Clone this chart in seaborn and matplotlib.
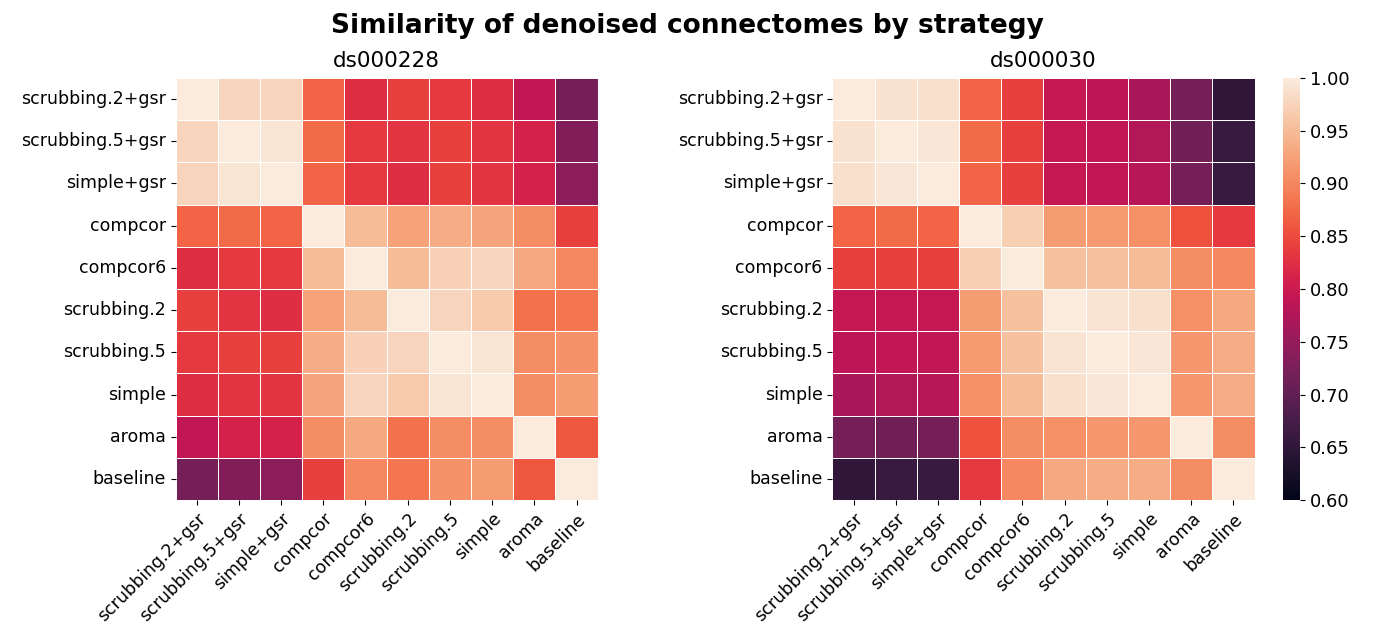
import numpy as np
import pandas as pd
import seaborn as sns
import matplotlib.pyplot as plt

# strategies in plotting order
strategies = ['scrubbing.2+gsr', 'scrubbing.5+gsr', 'simple+gsr', 'compcor',
              'compcor6', 'scrubbing.2', 'scrubbing.5', 'simple', 'aroma',
              'baseline']

# similarity matrices (rows follow strategies)
ds000228 = [
    [1.000, 0.978, 0.975, 0.870, 0.825, 0.840, 0.835, 0.825, 0.790, 0.720],
    [0.978, 1.000, 0.993, 0.875, 0.835, 0.830, 0.840, 0.830, 0.810, 0.730],
    [0.975, 0.993, 1.000, 0.870, 0.835, 0.825, 0.840, 0.830, 0.810, 0.740],
    [0.870, 0.875, 0.870, 1.000, 0.950, 0.925, 0.935, 0.928, 0.905, 0.840],
    [0.825, 0.835, 0.835, 0.950, 1.000, 0.950, 0.972, 0.975, 0.930, 0.900],
    [0.840, 0.830, 0.825, 0.925, 0.950, 1.000, 0.975, 0.965, 0.880, 0.885],
    [0.835, 0.840, 0.840, 0.935, 0.972, 0.975, 1.000, 0.993, 0.905, 0.910],
    [0.825, 0.830, 0.830, 0.928, 0.975, 0.965, 0.993, 1.000, 0.905, 0.920],
    [0.790, 0.810, 0.810, 0.905, 0.930, 0.880, 0.905, 0.905, 1.000, 0.860],
    [0.720, 0.730, 0.740, 0.840, 0.900, 0.885, 0.910, 0.920, 0.860, 1.000],
]

ds000030 = [
    [1.000, 0.990, 0.988, 0.870, 0.840, 0.795, 0.785, 0.770, 0.720, 0.650],
    [0.990, 1.000, 0.995, 0.875, 0.840, 0.795, 0.790, 0.775, 0.715, 0.660],
    [0.988, 0.995, 1.000, 0.870, 0.840, 0.795, 0.790, 0.780, 0.720, 0.660],
    [0.870, 0.875, 0.870, 1.000, 0.970, 0.920, 0.918, 0.908, 0.855, 0.835],
    [0.840, 0.840, 0.840, 0.970, 1.000, 0.955, 0.955, 0.950, 0.905, 0.900],
    [0.795, 0.795, 0.795, 0.920, 0.955, 1.000, 0.992, 0.988, 0.908, 0.930],
    [0.785, 0.790, 0.790, 0.918, 0.955, 0.992, 1.000, 0.995, 0.915, 0.935],
    [0.770, 0.775, 0.780, 0.908, 0.950, 0.988, 0.995, 1.000, 0.915, 0.935],
    [0.720, 0.715, 0.720, 0.855, 0.905, 0.908, 0.915, 0.915, 1.000, 0.905],
    [0.650, 0.660, 0.660, 0.835, 0.900, 0.930, 0.935, 0.935, 0.905, 1.000],
]

datasets = {'ds000228': ds000228, 'ds000030': ds000030}

fig = plt.figure(figsize=(13.74, 6.3), dpi=100)
ax_left = fig.add_axes([0.1274, 0.2063, 0.3079, 0.670])
ax_right = fig.add_axes([0.6055, 0.2063, 0.3079, 0.670])
cbar_ax = fig.add_axes([0.9338, 0.2063, 0.0124, 0.670])

for i, (name, mat) in enumerate(datasets.items()):
    ax = [ax_left, ax_right][i]
    df = pd.DataFrame(mat, index=strategies, columns=strategies)
    sns.heatmap(df, ax=ax, vmin=0.6, vmax=1.0, cmap='rocket',
                linewidths=0.5, linecolor='white', square=True,
                cbar=(i == 1), cbar_ax=cbar_ax if i == 1 else None)
    ax.set_title(name, fontsize=15.5, pad=8)
    ax.tick_params(labelsize=12.5)
    ax.set_xticklabels(strategies, rotation=45, ha='right',
                       rotation_mode='anchor')
    ax.set_yticklabels(strategies, rotation=0)

cbar_ax.tick_params(labelsize=13)
fig.suptitle('Similarity of denoised connectomes by strategy',
             fontsize=19, fontweight='bold', y=0.98)

fig.savefig('out.png', dpi=100)
